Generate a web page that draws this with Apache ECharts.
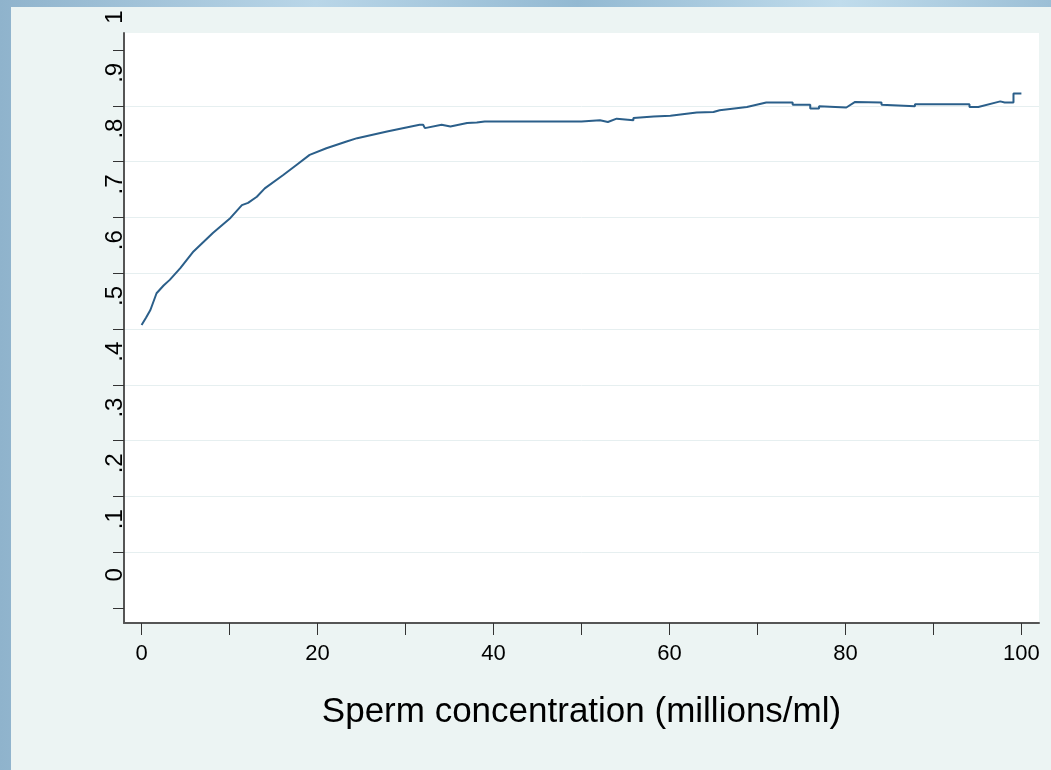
<!DOCTYPE html>
<html>
<head>
<meta charset="utf-8">
<title>Sperm concentration</title>
<script src="https://cdn.jsdelivr.net/npm/echarts@6/dist/echarts.min.js"></script>
<style>
  html, body {
    margin: 0;
    padding: 0;
    width: 1051px;
    height: 770px;
    overflow: hidden;
    background: linear-gradient(90deg, #8fb3cc 0%, #b9d6e8 30%, #93b9d2 55%, #c0dcec 80%, #9cbfd6 100%);
  }
  .panel {
    position: absolute;
    left: 11px;
    top: 7px;
    right: 0;
    bottom: 0;
    background: #ecf4f3;
  }
  #chart {
    position: absolute;
    left: 0;
    top: 0;
    width: 1051px;
    height: 770px;
  }
</style>
</head>
<body>
<div class="panel"></div>
<div id="chart"></div>
<script>
// x values (millions/ml)
var conc = [0, 0.5, 1, 1.7, 2.5, 3.2, 4.4, 5.9, 8.1, 10.1, 11.4, 12.1, 13.1, 14, 16.1, 17.6, 19.1, 21, 23.3, 24.5,
  27.9, 29.4, 31.6, 32, 32.2, 34.1, 35.1, 37, 38.1, 39, 50, 50, 52.1, 53, 54, 55.9, 55.9, 58.2, 60.1, 63.1,
  65, 65.7, 68.8, 71, 74, 74, 76, 76, 77, 77, 80.1, 80.3, 81.1, 84.1, 84.1, 87.9, 87.9, 94.1, 94.1, 95.1,
  97.6, 98.1, 99.1, 99.1, 100]
// y values at each x
var prop = [0.507, 0.52, 0.534, 0.564, 0.578, 0.588, 0.609, 0.639, 0.672, 0.699, 0.722, 0.726, 0.737, 0.752, 0.776, 0.794, 0.812, 0.824, 0.836, 0.842,
  0.854, 0.859, 0.866, 0.866, 0.86, 0.866, 0.863, 0.869, 0.87, 0.872, 0.872, 0.874, 0.874, 0.871, 0.877, 0.874, 0.878, 0.881, 0.882, 0.888,
  0.889, 0.892, 0.898, 0.906, 0.906, 0.902, 0.902, 0.895, 0.895, 0.899, 0.897, 0.895, 0.907, 0.906, 0.902, 0.899, 0.903, 0.903, 0.898, 0.898,
  0.908, 0.906, 0.906, 0.922, 0.922]

// axis ticks and labels
var xTicks = [0, 10, 20, 30, 40, 50, 60, 70, 80, 90, 100]
var xLabels = [0, 20, 40, 60, 80, 100]
var yTicks = [0, 0.1, 0.2, 0.3, 0.4, 0.5, 0.6, 0.7, 0.8, 0.9, 1]
var yLabels = ['0', '.1', '.2', '.3', '.4', '.5', '.6', '.7', '.8', '.9', '1']
var yGrid = [0.1, 0.2, 0.3, 0.4, 0.5, 0.6, 0.7, 0.8, 0.9]

var xMin = -2
var xMax = 102
var yMin = -0.027
var yMax = 1.0305

var FONT = 'Liberation Sans, Arial, sans-serif'

/**
 * pair the two arrays for the line series
 */
function getData() {
  return conc.map(function (x, i) {
    return [x, prop[i]]
  })
}

function initChart() {
  var chart = echarts.init(document.getElementById('chart'), null, { renderer: 'canvas' })
  var option = {
    backgroundColor: 'transparent',
    animation: false,
    grid: [
      // plot area
      {
        left: 124, right: 12, top: 33, bottom: 147,
        show: true, backgroundColor: '#ffffff', borderWidth: 0
      },
      // label grid, shifted up like the original's labels
      {
        left: 124, right: 12, top: 0, bottom: 180,
        show: false
      }
    ],
    xAxis: [
      {
        gridIndex: 0,
        type: 'value',
        min: xMin,
        max: xMax,
        name: 'Sperm concentration (millions/ml)',
        nameLocation: 'middle',
        nameGap: 72,
        nameTextStyle: { fontFamily: FONT, fontSize: 35, color: '#000' },
        axisLine: { show: true, onZero: false, lineStyle: { color: '#555', width: 2 } },
        axisTick: { show: true, inside: false, length: 12, customValues: xTicks, lineStyle: { color: '#333', width: 1 } },
        axisLabel: {
          customValues: xLabels,
          margin: 20,
          fontFamily: FONT,
          fontSize: 22,
          color: '#000'
        },
        splitLine: { show: false }
      },
      {
        gridIndex: 1,
        type: 'value',
        min: xMin,
        max: xMax,
        axisLine: { onZero: false },
        show: false
      }
    ],
    yAxis: [
      {
        gridIndex: 0,
        type: 'value',
        min: yMin,
        max: yMax,
        axisLine: { show: true, onZero: false, lineStyle: { color: '#555', width: 2 } },
        axisTick: { show: true, inside: false, length: 11, customValues: yTicks, lineStyle: { color: '#333', width: 1 } },
        axisLabel: { show: false },
        splitLine: { show: false }
      },
      {
        gridIndex: 1,
        type: 'value',
        min: yMin,
        max: yMax,
        axisLine: { show: false, onZero: false },
        axisTick: { show: false },
        axisLabel: {
          customValues: yTicks,
          rotate: 90,
          margin: -3,
          fontFamily: FONT,
          fontSize: 24,
          color: '#000',
          formatter: function (v) {
            var idx = yTicks.findIndex(function (t) { return Math.abs(t - v) < 1e-6 })
            return idx >= 0 ? yLabels[idx] : ''
          }
        },
        splitLine: { show: false }
      }
    ],
    series: [
      {
        type: 'line',
        xAxisIndex: 0,
        yAxisIndex: 0,
        data: getData(),
        showSymbol: false,
        symbol: 'none',
        lineStyle: { color: '#2b5f8a', width: 2 },
        markLine: {
          silent: true,
          symbol: 'none',
          label: { show: false },
          lineStyle: { color: '#e6eff0', width: 1, type: 'solid' },
          data: yGrid.map(function (v) { return { yAxis: v } }),
          z: 0
        },
        z: 3
      }
    ]
  }
  chart.setOption(option)
}

initChart()
</script>
</body>
</html>
